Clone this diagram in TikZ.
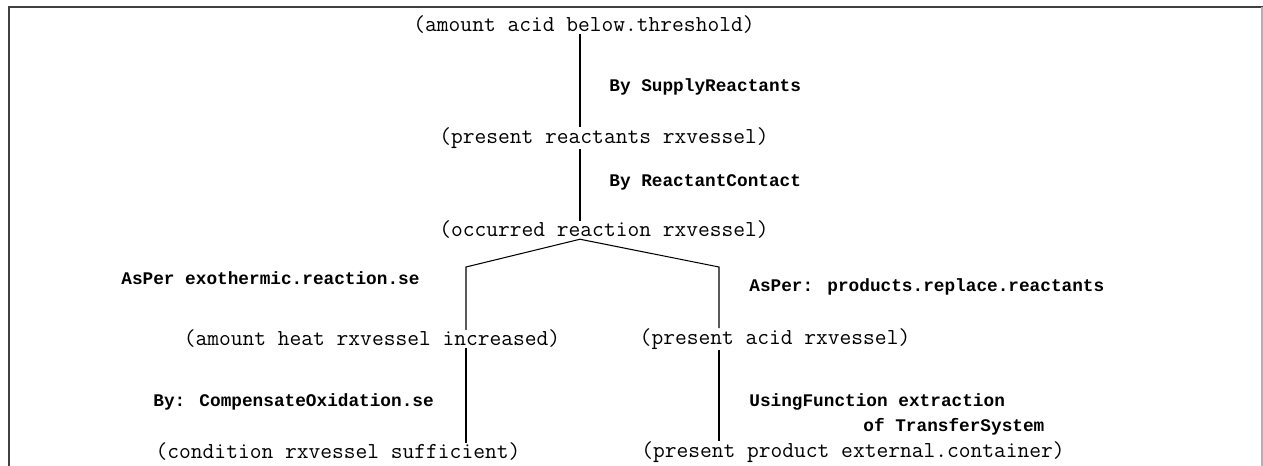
\documentclass[tikz,border=0pt]{standalone}
\usepackage{fontspec}
\newfontfamily\rulefont{Liberation Mono}
\tikzset{
  term/.style={font=\ttfamily\fontsize{13}{15}\selectfont, inner sep=0pt},
  rulename/.style={font=\rulefont\bfseries\fontsize{10.1}{12}\selectfont, inner sep=0pt, anchor=west},
  link/.style={line width=0.6pt}
}
\begin{document}
\begin{tikzpicture}[x=0.02cm, y=-0.02cm]
      \useasboundingbox (0,0) rectangle (1263,466);
      \draw[line width=1.7pt, black!75] (9,466) -- (9,7) -- (1263,7);
      \draw[line width=0.6pt, black!30] (1262,7) -- (1262,466);

      \node[term] (goal)      at (584,25)  {(amount acid below.threshold)};
      \node[term] (reactants) at (604,138) {(present reactants rxvessel)};
      \node[term] (reaction)  at (604,230) {(occurred reaction rxvessel)};
      \node[term] (heat)      at (372,339) {(amount heat rxvessel increased)};
      \node[term] (acid)      at (775,339) {(present acid rxvessel)};
      \node[term] (condition) at (338,452) {(condition rxvessel sufficient)};
      \node[term] (product)   at (853,452) {(present product external.container)};

      \node[rulename] (supply)  at (609,87)  {By SupplyReactants};
      \node[rulename] (contact) at (609,182) {By ReactantContact};
      \node[rulename] (exo)     at (121,278) {AsPer exothermic.reaction.se};
      \node[rulename] (replace) at (749,287) {AsPer: products.replace.reactants};
      \node[rulename] (oxid)    at (153,402) {By: CompensateOxidation.se};
      \node[rulename] (using)   at (749,402) {UsingFunction extraction};
      \node[rulename] (transfer) at (863,427) {of TransferSystem};

      \coordinate (spine) at (580,0);
      \coordinate (lfork) at (466,267);
      \coordinate (rfork) at (719,267);

      \draw[link] (goal.south -| spine) -- (reactants.north -| spine);
      \draw[link] (reactants.south -| spine) -- (reaction.north -| spine);
      \draw[link] (heat.north -| lfork) -- (lfork) -- (reaction.south -| spine) -- (rfork) -- (acid.north -| rfork);
      \draw[link] (heat.south -| lfork) -- (condition.north -| lfork);
      \draw[link] (acid.south -| rfork) -- (product.north -| rfork);
    \end{tikzpicture}
\end{document}
